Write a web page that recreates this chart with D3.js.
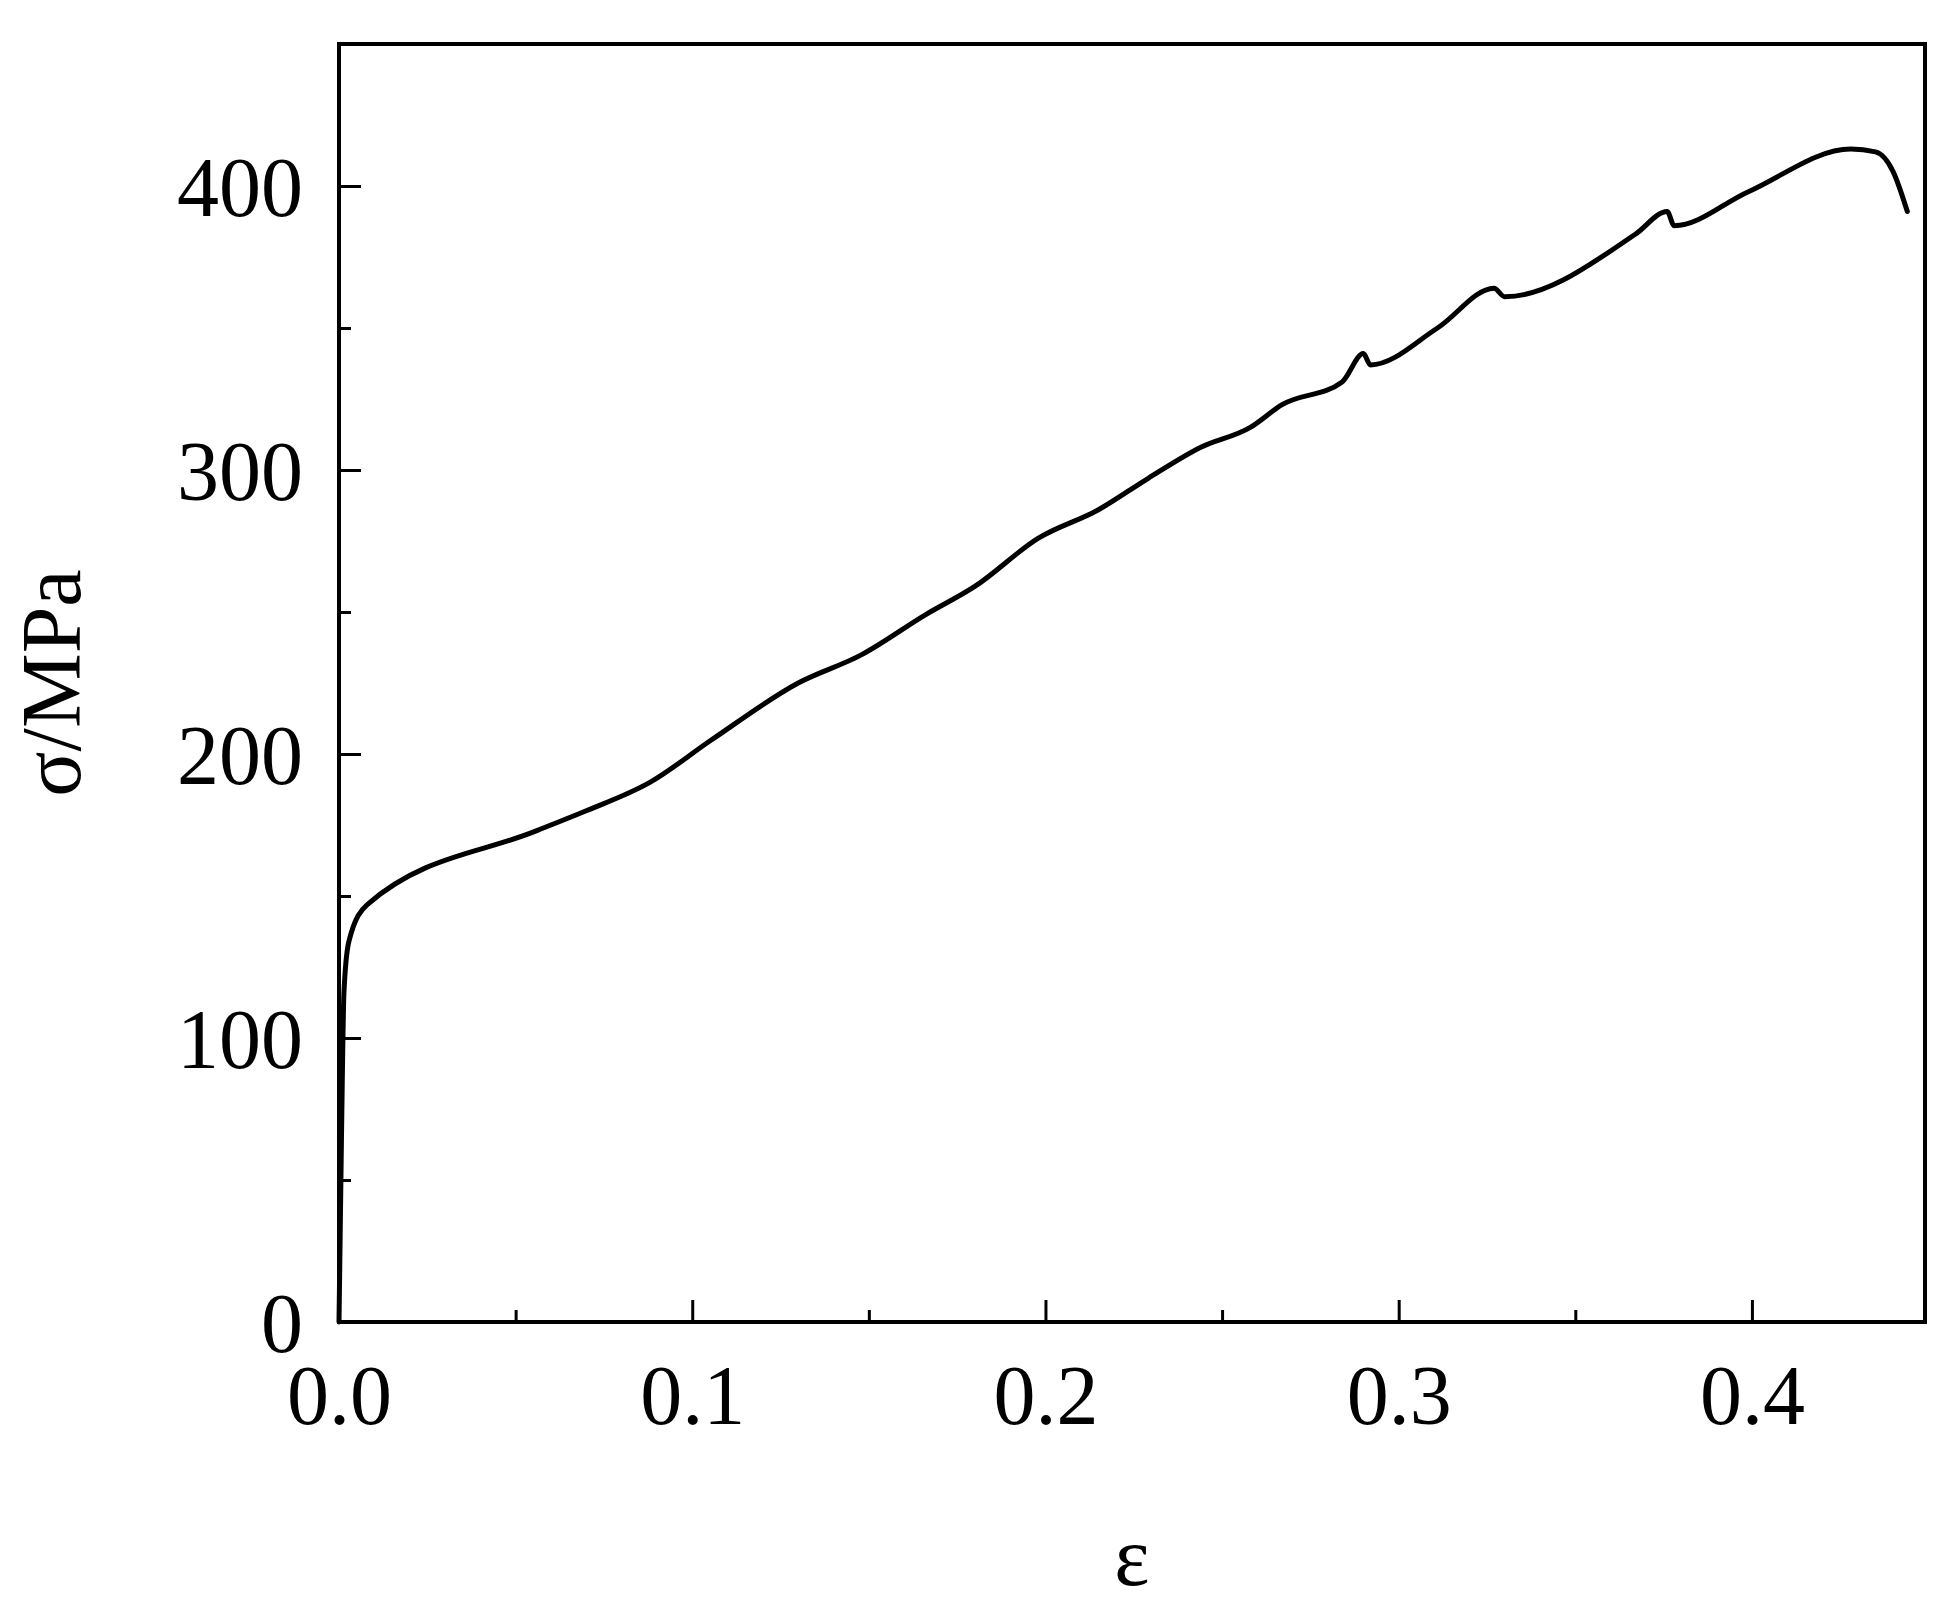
<!DOCTYPE html>
<html lang="en">
<head>
<meta charset="UTF-8">
<title>Stress-strain</title>
<script src="https://cdn.jsdelivr.net/npm/d3@7"></script>
<style>
  body { margin: 0; background: #fff; }
  text { font-family: "Liberation Serif", "Times New Roman", serif; fill: #000; }
</style>
</head>
<body>
<svg id="chart" width="1958" height="1617"></svg>
<script>
    // strain values
    var strain = [0, 0.0007, 0.0014, 0.0028, 0.008, 0.056, 0.070, 0.088, 0.1055, 0.130,
        0.148, 0.166, 0.180, 0.198, 0.215, 0.229, 0.244, 0.258, 0.267, 0.284,
        0.290, 0.292, 0.311, 0.327, 0.330, 0.367, 0.376, 0.378, 0.399, 0.428,
        0.435, 0.440, 0.444];
    // stress in MPa
    var stress = [0, 65, 116, 134, 147, 173, 180, 190, 205, 225,
        235, 249, 259, 276, 286, 297, 308, 315, 323, 331,
        341, 337, 350, 364, 361, 383, 391, 386, 398, 413,
        412, 405, 391];
    var xTicks = [0, 0.1, 0.2, 0.3, 0.4];
    var yTicks = [0, 100, 200, 300, 400];

    // note: "top" is reserved on window, so use a margin object
    var plot = {left: 339, right: 1925, top: 44, bottom: 1322};
    var svg = d3.select('#chart');

    var x = d3.scaleLinear().domain([0, 0.449]).range([plot.left, plot.right]);
    var y = d3.scaleLinear().domain([0, 450]).range([plot.bottom, plot.top]);

    // frame
    svg.append('rect')
        .attr('x', plot.left).attr('y', plot.top)
        .attr('width', plot.right - plot.left).attr('height', plot.bottom - plot.top)
        .attr('fill', 'none').attr('stroke', '#000').attr('stroke-width', 4);

    var xAxis = svg.append('g').attr('transform', 'translate(0,' + plot.bottom + ')')
        .call(d3.axisBottom(x).tickValues(xTicks).tickFormat(d3.format('.1f'))
            .tickSizeInner(-22).tickSizeOuter(0).tickPadding(42));
    svg.append('g').attr('transform', 'translate(0,' + plot.bottom + ')')
        .call(d3.axisBottom(x).tickValues([0.05, 0.15, 0.25, 0.35]).tickFormat('')
            .tickSizeInner(-12).tickSizeOuter(0));

    var yAxis = svg.append('g').attr('transform', 'translate(' + plot.left + ',0)')
        .call(d3.axisLeft(y).tickValues(yTicks).tickSizeInner(-22).tickSizeOuter(0).tickPadding(36));
    svg.append('g').attr('transform', 'translate(' + plot.left + ',0)')
        .call(d3.axisLeft(y).tickValues([50, 150, 250, 350]).tickFormat('')
            .tickSizeInner(-12).tickSizeOuter(0));

    svg.selectAll('.domain').remove();
    svg.selectAll('.tick line').attr('stroke', '#000').attr('stroke-width', 3);
    svg.selectAll('.tick text').style('font-size', '84px')
        .style('font-family', '"Liberation Serif", serif');
    xAxis.selectAll('.tick text').attr('dy', '0.71em');
    yAxis.selectAll('.tick text').attr('dy', '0.35em');

    var line = d3.line()
        .x(function (d, i) { return x(strain[i]); })
        .y(function (d) { return y(d); })
        .curve(d3.curveMonotoneX);

    svg.append('path')
        .datum(stress)
        .attr('d', line)
        .attr('fill', 'none').attr('stroke', '#000').attr('stroke-width', 5)
        .attr('stroke-linejoin', 'round').attr('stroke-linecap', 'round');

    svg.append('text')
        .attr('x', (plot.left + plot.right) / 2).attr('y', 1585)
        .attr('text-anchor', 'middle').style('font-size', '84px').text('ε');

    svg.append('text')
        .attr('transform', 'translate(80,' + (plot.top + plot.bottom) / 2 + ') rotate(-90)')
        .attr('text-anchor', 'middle').style('font-size', '84px').text('σ/MPa');
</script>
</body>
</html>
